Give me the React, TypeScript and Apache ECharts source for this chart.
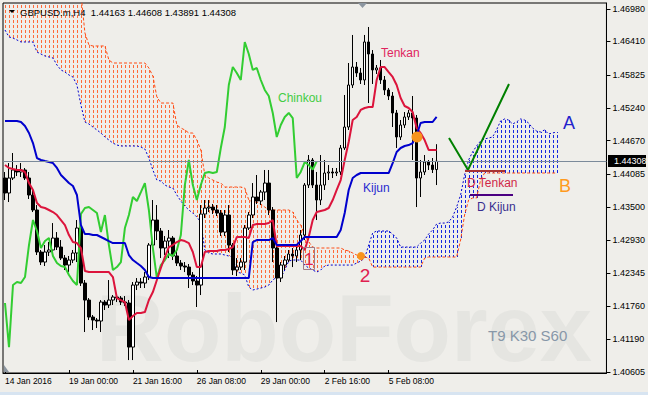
import React, { useEffect, useRef } from "react";
import * as echarts from "echarts";

const FONT = '"Liberation Sans", Arial, sans-serif';
const BG = "#EFEEEA";

const symbolTitle = "GBPUSD.m,H4";
const titleOHLC = [1.44163, 1.44608, 1.43891, 1.44308];
const timeLabels = ["14 Jan 2016", "19 Jan 00:00", "21 Jan 16:00", "26 Jan 08:00", "29 Jan 00:00", "2 Feb 16:00", "5 Feb 08:00"];
const barsPerLabel = 16;
const totalSlots = 151;
const priceTicks = [1.4698, 1.4641, 1.45825, 1.4524, 1.4467, 1.44085, 1.435, 1.4293, 1.42345, 1.4176, 1.4119, 1.40605];
const lastPrice = 1.44308;
const chinkouShift = 30;

const open = [
  1.44014, 1.43751, 1.44014, 1.44155, 1.4412, 1.44155, 1.44014, 1.43716, 1.43453, 1.42716,
  1.4254, 1.42716, 1.42751, 1.42961, 1.42803, 1.4261, 1.42487, 1.42575, 1.42698, 1.43137,
  1.42171, 1.41873, 1.41575, 1.41522, 1.41505, 1.41838, 1.41786, 1.41873, 1.41926, 1.41908,
  1.41838, 1.41821, 1.41048, 1.42136, 1.42189, 1.42171, 1.42277, 1.42838, 1.43277, 1.43084,
  1.42786, 1.42908, 1.42961, 1.42646, 1.42522, 1.4247, 1.42452, 1.42312, 1.42207, 1.42136,
  1.43382, 1.43488, 1.43505, 1.43453, 1.434, 1.43066, 1.43365, 1.42838, 1.424, 1.42452,
  1.4254, 1.43137, 1.43365, 1.43681, 1.43611, 1.43768, 1.43926, 1.43453, 1.42786, 1.42259,
  1.42487, 1.42575, 1.42681, 1.42646, 1.42751, 1.43014, 1.43891, 1.4433, 1.43891, 1.43628,
  1.43891, 1.44102, 1.4412, 1.44102, 1.4412, 1.44541, 1.44909, 1.45646, 1.45962, 1.45857,
  1.45734, 1.46401, 1.4619, 1.4591, 1.45945, 1.45734, 1.45559, 1.45453, 1.45155, 1.44734,
  1.44944, 1.45085, 1.45155, 1.45067, 1.44014, 1.4412, 1.44295, 1.44242, 1.44163,
];
const close = [
  1.43751, 1.44014, 1.44155, 1.4412, 1.44155, 1.44014, 1.43716, 1.43453, 1.42716, 1.4254,
  1.42716, 1.42751, 1.42961, 1.42803, 1.4261, 1.42487, 1.42575, 1.42698, 1.43137, 1.42171,
  1.41873, 1.41575, 1.41522, 1.41505, 1.41838, 1.41786, 1.41873, 1.41926, 1.41908, 1.41838,
  1.41821, 1.41048, 1.42136, 1.42189, 1.42171, 1.42277, 1.42838, 1.43277, 1.43084, 1.42786,
  1.42908, 1.42961, 1.42646, 1.42522, 1.4247, 1.42452, 1.42312, 1.42207, 1.42136, 1.43382,
  1.43488, 1.43505, 1.43453, 1.434, 1.43066, 1.43365, 1.42838, 1.424, 1.42452, 1.4254,
  1.43137, 1.43365, 1.43681, 1.43611, 1.43768, 1.43926, 1.43453, 1.42786, 1.42259, 1.42487,
  1.42575, 1.42681, 1.42646, 1.42751, 1.43014, 1.43891, 1.4433, 1.43891, 1.43628, 1.43891,
  1.44102, 1.4412, 1.44102, 1.4412, 1.44541, 1.44909, 1.45646, 1.45962, 1.45857, 1.45734,
  1.46401, 1.4619, 1.4591, 1.45945, 1.45734, 1.45559, 1.45453, 1.45155, 1.44734, 1.44944,
  1.45085, 1.45155, 1.45067, 1.44014, 1.4412, 1.44295, 1.44242, 1.44163, 1.44308,
];
const high = [
  1.4412, 1.44277, 1.44453, 1.44242, 1.44277, 1.4419, 1.4412, 1.43804, 1.4354, 1.42751,
  1.42838, 1.42891, 1.43224, 1.43066, 1.42926, 1.42663, 1.42646, 1.42751, 1.43277, 1.43277,
  1.42224, 1.41908, 1.4161, 1.41557, 1.41873, 1.41873, 1.42224, 1.41961, 1.41978, 1.41943,
  1.41943, 1.41873, 1.42189, 1.42259, 1.42259, 1.42364, 1.42873, 1.43628, 1.4354, 1.43137,
  1.42996, 1.43102, 1.42996, 1.42751, 1.42575, 1.4254, 1.42505, 1.42364, 1.42294, 1.4354,
  1.43628, 1.43628, 1.43558, 1.4354, 1.43453, 1.43453, 1.4354, 1.42873, 1.4261, 1.4261,
  1.43189, 1.43417, 1.43926, 1.44067, 1.43804, 1.44155, 1.44155, 1.43505, 1.42838, 1.4254,
  1.42646, 1.42751, 1.42786, 1.42838, 1.43102, 1.43926, 1.44418, 1.44365, 1.4412, 1.44418,
  1.4433, 1.44242, 1.4419, 1.4419, 1.44593, 1.45471, 1.46032, 1.46524, 1.4605, 1.45945,
  1.46524, 1.46664, 1.4626, 1.45997, 1.46085, 1.45804, 1.45594, 1.45523, 1.45208, 1.45032,
  1.45172, 1.45208, 1.45453, 1.4512, 1.4433, 1.44418, 1.4433, 1.44365, 1.44608,
];
const low = [
  1.43628, 1.43593, 1.43979, 1.44049, 1.44032, 1.43979, 1.43646, 1.43417, 1.42663, 1.42487,
  1.4247, 1.42646, 1.42663, 1.42751, 1.42575, 1.424, 1.42364, 1.42522, 1.4254, 1.42119,
  1.41312, 1.41522, 1.41347, 1.41382, 1.41312, 1.41698, 1.41733, 1.41786, 1.41838, 1.41786,
  1.41768, 1.4082, 1.4082, 1.42049, 1.42084, 1.42084, 1.42224, 1.42803, 1.42926, 1.4261,
  1.42663, 1.4261, 1.42575, 1.4247, 1.424, 1.42364, 1.42084, 1.42136, 1.41751, 1.41961,
  1.43312, 1.43417, 1.43382, 1.43347, 1.42996, 1.42996, 1.42716, 1.42312, 1.42294, 1.424,
  1.424, 1.43102, 1.43312, 1.43558, 1.4354, 1.43628, 1.43365, 1.4254, 1.41487, 1.42189,
  1.424, 1.4254, 1.42452, 1.4254, 1.42575, 1.42926, 1.43839, 1.43839, 1.43277, 1.4354,
  1.43804, 1.43979, 1.44014, 1.44049, 1.44067, 1.44506, 1.44857, 1.45594, 1.45787, 1.45664,
  1.45646, 1.4533, 1.45664, 1.45839, 1.45664, 1.45471, 1.45383, 1.44909, 1.44541, 1.44681,
  1.44892, 1.45032, 1.4433, 1.43505, 1.43681, 1.44067, 1.44155, 1.44102, 1.43891,
];
const tenkan = [
  1.44242, 1.4419, 1.44172, 1.44155, 1.44155, 1.4412, 1.43926, 1.43804, 1.43575, 1.43505,
  1.43488, 1.43453, 1.43417, 1.43365, 1.43277, 1.43189, 1.43014, 1.42891, 1.42873, 1.42786,
  1.42382, 1.42364, 1.42364, 1.42364, 1.42364, 1.42364, 1.42364, 1.42277, 1.41908, 1.41873,
  1.41838, 1.41522, 1.41592, 1.41645, 1.41645, 1.41662, 1.41873, 1.42013, 1.42224, 1.42435,
  1.42628, 1.42803, 1.42838, 1.42891, 1.42926, 1.42908, 1.42873, 1.42716, 1.42452, 1.42452,
  1.42716, 1.42733, 1.42733, 1.42733, 1.42751, 1.42751, 1.42768, 1.42803, 1.42979, 1.42979,
  1.42979, 1.42961, 1.43189, 1.43207, 1.43207, 1.43207, 1.43224, 1.43277, 1.42821, 1.42821,
  1.42821, 1.42821, 1.42821, 1.42821, 1.42821, 1.42751, 1.42979, 1.43277, 1.43417, 1.43435,
  1.43453, 1.43488, 1.43628, 1.43804, 1.43979, 1.4433, 1.44646, 1.45032, 1.45085, 1.45208,
  1.45243, 1.4526, 1.4526, 1.45734, 1.45962, 1.45962, 1.45874, 1.45787, 1.45646, 1.45418,
  1.45278, 1.45243, 1.45172, 1.44892, 1.44804, 1.44681, 1.44506, 1.44506, 1.44506,
];
const kijun = [
  1.45015, 1.45015, 1.45015, 1.45015, 1.44997, 1.44927, 1.44804, 1.44628, 1.44365, 1.4433,
  1.44312, 1.44295, 1.44277, 1.4419, 1.44067, 1.43997, 1.43926, 1.43874, 1.43716, 1.43189,
  1.43031, 1.43031, 1.43014, 1.43014, 1.42979, 1.42944, 1.42908, 1.42873, 1.42873, 1.42873,
  1.42873, 1.42663, 1.42575, 1.42522, 1.4247, 1.424, 1.42277, 1.42259, 1.42259, 1.42259,
  1.42259, 1.42259, 1.42259, 1.42259, 1.42259, 1.42259, 1.42259, 1.42259, 1.42259, 1.42259,
  1.42259, 1.42259, 1.42259, 1.42259, 1.42259, 1.42259, 1.42259, 1.42259, 1.42259, 1.42259,
  1.42259, 1.42259, 1.42891, 1.42926, 1.42926, 1.42926, 1.42926, 1.42961, 1.42838, 1.42838,
  1.42838, 1.42838, 1.42838, 1.42838, 1.42908, 1.42979, 1.42979, 1.42979, 1.42979, 1.42979,
  1.42979, 1.42979, 1.42979, 1.42979, 1.43102, 1.434, 1.43804, 1.44014, 1.44067, 1.44102,
  1.44102, 1.44102, 1.44102, 1.44102, 1.44102, 1.44102, 1.44102, 1.44277, 1.44471, 1.44541,
  1.44576, 1.44593, 1.44628, 1.44769, 1.4498, 1.44997, 1.44997, 1.44997, 1.45085,
];
const senkouA = [
  1.46611, 1.46489, 1.46471, 1.46436, 1.46401, 1.46401, 1.46401, 1.46401, 1.46225, 1.4619,
  1.46155, 1.46138, 1.4612, 1.45997, 1.4591, 1.45874, 1.45822, 1.45787, 1.45646, 1.45295,
  1.44997, 1.44962, 1.44909, 1.44857, 1.44804, 1.44734, 1.44681, 1.44628, 1.44593, 1.44576,
  1.44576, 1.44576, 1.44576, 1.44576, 1.44558, 1.44523, 1.44365, 1.44155, 1.43979, 1.43961,
  1.43891, 1.43856, 1.43839, 1.43716, 1.43611, 1.43523, 1.43453, 1.434, 1.4333, 1.43242,
  1.42751, 1.42698, 1.42681, 1.42681, 1.42681, 1.42663, 1.42646, 1.42628, 1.42364, 1.42347,
  1.42312, 1.42101, 1.42049, 1.42066, 1.42084, 1.42101, 1.42136, 1.42224, 1.42277, 1.42259,
  1.424, 1.42557, 1.42575, 1.42575, 1.42575, 1.42487, 1.42435, 1.424, 1.42364, 1.424,
  1.4247, 1.42487, 1.42487, 1.42487, 1.42487, 1.42487, 1.42487, 1.42487, 1.42522, 1.42557,
  1.4261, 1.42838, 1.43049, 1.43084, 1.43084, 1.43084, 1.43084, 1.43031, 1.42961, 1.42803,
  1.42803, 1.42803, 1.42803, 1.42803, 1.42873, 1.42926, 1.43031, 1.43102, 1.43207, 1.43224,
  1.43224, 1.43242, 1.4333, 1.43505, 1.43716, 1.44067, 1.4433, 1.44471, 1.44576, 1.44664,
  1.44699, 1.44716, 1.44734, 1.44857, 1.45015, 1.4505, 1.45032, 1.44962, 1.44997, 1.4505,
  1.45032, 1.4498, 1.44892, 1.44839, 1.44822, 1.44857, 1.44787, 1.44804, 1.44822,
];
const senkouB = [
  1.4725, 1.4725, 1.4725, 1.4725, 1.4725, 1.4725, 1.4725, 1.4725, 1.4725, 1.4725,
  1.4725, 1.4725, 1.4725, 1.4725, 1.4725, 1.4725, 1.4725, 1.4725, 1.4725, 1.4725,
  1.46559, 1.46348, 1.46331, 1.46331, 1.46331, 1.46331, 1.46085, 1.46032, 1.46032, 1.46032,
  1.46032, 1.46032, 1.46032, 1.46032, 1.46032, 1.46032, 1.45945, 1.45804, 1.45436, 1.4533,
  1.4533, 1.4533, 1.4533, 1.44944, 1.44892, 1.44857, 1.44804, 1.44804, 1.44681, 1.44506,
  1.44067, 1.44014, 1.43979, 1.43944, 1.43926, 1.43856, 1.43856, 1.43856, 1.43856, 1.43856,
  1.43839, 1.43628, 1.43593, 1.43593, 1.43558, 1.43505, 1.43453, 1.43453, 1.43453, 1.43453,
  1.43453, 1.43453, 1.43417, 1.43277, 1.43189, 1.43014, 1.42891, 1.42803, 1.42786, 1.42786,
  1.42786, 1.42786, 1.42786, 1.42786, 1.42786, 1.42751, 1.42733, 1.42698, 1.42663, 1.42628,
  1.42628, 1.4261, 1.42452, 1.42452, 1.42452, 1.42452, 1.42452, 1.42452, 1.42452, 1.42452,
  1.42452, 1.42452, 1.42452, 1.42452, 1.42452, 1.4261, 1.42628, 1.42628, 1.42628, 1.42628,
  1.42628, 1.42628, 1.42628, 1.42628, 1.42926, 1.43365, 1.43628, 1.43663, 1.43663, 1.43979,
  1.44102, 1.44102, 1.44102, 1.44102, 1.44102, 1.44102, 1.44102, 1.44102, 1.44102, 1.44102,
  1.44102, 1.44102, 1.44102, 1.44102, 1.44102, 1.44102, 1.44102, 1.44102, 1.44102,
];

const COL_TENKAN = "#DC143C";
const COL_KIJUN = "#0000CD";
const COL_CHINKOU = "#32CD32";
const COL_SPAN_A = "#0000CD";
const COL_SPAN_B = "#FF4A12";
const HATCH_A = "#1428E0";
const HATCH_B = "#FF6A38";

export default function App() {
  const ref = useRef<HTMLDivElement>(null);
  useEffect(() => {
    if (!ref.current) return;
    const chart = echarts.init(ref.current, undefined, { renderer: "svg" });
    const categories = Array.from({ length: totalSlots }, (_, i) => String(i));
    const candles = open.map((o, i) => [o, close[i], low[i], high[i]]);
    const chinkou = close.slice(chinkouShift);
    const isLabel = (idx: number) => idx % barsPerLabel === 0 && idx / barsPerLabel < timeLabels.length;
    const txt = (text: string, x: number, y: number, size: number, fill: string, extra: any = {}) => ({
      type: "text",
      x,
      y,
      z: 100,
      silent: true,
      style: { text, fill, fontSize: size, fontFamily: FONT, verticalAlign: "middle", textVerticalAlign: "middle", ...extra },
    });

    chart.setOption({
      animation: false,
      backgroundColor: BG,
      grid: { left: 3, top: 3, width: 604, height: 370, show: true, borderColor: "#000", borderWidth: 1, backgroundColor: BG },
      xAxis: {
        type: "category",
        data: categories,
        boundaryGap: true,
        axisLine: { show: true, lineStyle: { color: "#000", width: 1 } },
        axisTick: { show: true, inside: true, length: 3, alignWithLabel: true, interval: (idx: number) => isLabel(idx), lineStyle: { color: "#000" } },
        axisLabel: {
          interval: (idx: number) => isLabel(idx),
          formatter: (_v: string, idx: number) => timeLabels[idx / barsPerLabel] || "",
          align: "left",
          margin: 3,
          color: "#000",
          fontSize: 8.5,
          fontFamily: FONT,
        },
        splitLine: { show: false },
      },
      yAxis: {
        type: "value",
        position: "right",
        min: 1.40593,
        max: 1.47085,
        splitLine: { show: false },
        axisLine: { show: true, lineStyle: { color: "#000", width: 1 } },
        axisTick: { show: true, length: 4, customValues: priceTicks, lineStyle: { color: "#000" } },
        axisLabel: { customValues: priceTicks, formatter: (v: number) => v.toFixed(5), margin: 6, color: "#000", fontSize: 9, fontFamily: FONT },
      },
      series: [
        {
          type: "line",
          name: "price",
          data: [],
          z: 1,
          silent: true,
          markLine: {
            silent: true,
            precision: 5,
            symbol: ["none", "none"],
            label: { show: false },
            lineStyle: { color: "#7B8A9A", width: 1, type: "solid" },
            data: [{ yAxis: lastPrice }],
          },
        },
        { type: "line", name: "Senkou A", data: senkouA, symbol: "none", z: 2, silent: true, lineStyle: { color: COL_SPAN_A, width: 1, type: [2, 2] } },
        { type: "line", name: "Senkou B", data: senkouB, symbol: "none", z: 2, silent: true, lineStyle: { color: COL_SPAN_B, width: 1, type: [3, 2] } },
        {
          type: "candlestick",
          name: symbolTitle,
          data: candles,
          barWidth: 3,
          z: 3,
          silent: true,
          itemStyle: { color: "#FFFFFF", color0: "#000000", borderColor: "#000000", borderColor0: "#000000", borderWidth: 1 },
        },
        { type: "line", name: "Chinkou", data: chinkou, symbol: "none", z: 4, silent: true, lineStyle: { color: COL_CHINKOU, width: 2 } },
        { type: "line", name: "Tenkan", data: tenkan, symbol: "none", z: 4, silent: true, lineStyle: { color: COL_TENKAN, width: 2 } },
        { type: "line", name: "Kijun", data: kijun, symbol: "none", z: 4, silent: true, lineStyle: { color: COL_KIJUN, width: 2 } },
      ],
    });

    // Kumo hatching: dashed verticals (3px on / 2px off) per bar between Senkou A and B,
    // placed through the chart's own scales via convertToPixel.
    const gridTop = 4;
    const gridBottom = 372;
    const hatch: any[] = [];
    senkouA.forEach((a, i) => {
      const b = senkouB[i];
      const pa = chart.convertToPixel({ xAxisIndex: 0, yAxisIndex: 0 }, [i, a]) as number[];
      const pb = chart.convertToPixel({ xAxisIndex: 0, yAxisIndex: 0 }, [i, b]) as number[];
      const x = Math.round(pa[0]);
      const top = Math.max(gridTop, Math.min(pa[1], pb[1]));
      const bot = Math.min(gridBottom, Math.max(pa[1], pb[1]));
      const fill = b > a ? HATCH_B : HATCH_A;
      for (let k = Math.floor(top / 5) * 5; k < bot; k += 5) {
        const y0 = Math.max(k, Math.round(top));
        const y1 = Math.min(k + 3, Math.round(bot));
        if (y1 - y0 >= 1) {
          hatch.push({ type: "rect", z: 1, silent: true, shape: { x, y: y0, width: 1, height: y1 - y0 }, style: { fill } });
        }
      }
    });

    chart.setOption({
      graphic: [
        {
          type: "text",
          x: 96,
          y: 328,
          z: 1,
          silent: true,
          style: { text: "RoboForex", fill: "#E5E5E1", fontSize: 94, lineHeight: 72, fontWeight: "bold", fontFamily: FONT, verticalAlign: "middle", textVerticalAlign: "middle" },
        },
        ...hatch,
        txt("T9 K30 S60", 488, 335, 15, "#8797A8"),
        { type: "polygon", z: 100, silent: true, shape: { points: [[9, 10], [15, 10], [12, 13]] }, style: { fill: "#000" } },
        txt(symbolTitle + "  " + titleOHLC.map((v) => v.toFixed(5)).join(" "), 20, 12, 9.5, "#000"),
        { type: "polygon", z: 100, silent: true, shape: { points: [[358, 3], [367, 3], [362.5, 8]] }, style: { fill: "#8C96A0" } },
        { type: "polygon", z: 100, silent: true, shape: { points: [[4, 365], [4, 372], [9, 372]] }, style: { fill: "#8C96A0" } },
        txt("Tenkan", 381, 53, 12, "#E0245E"),
        txt("Chinkou", 278, 98, 12, "#44CC44"),
        txt("Kijun", 363, 188, 12, "#2A2AD0"),
        { type: "rect", z: 100, silent: true, shape: { x: 303.5, y: 247.5, width: 11, height: 22 }, style: { fill: "none", stroke: "#A07A86", lineWidth: 1 } },
        txt("1", 309, 259, 17, "#E02050", { align: "center", textAlign: "center" }),
        txt("2", 365, 275, 19, "#E02050", { align: "center", textAlign: "center" }),
        { type: "circle", z: 100, silent: true, shape: { cx: 417, cy: 137, r: 5.5 }, style: { fill: "#F7941D" } },
        { type: "circle", z: 100, silent: true, shape: { cx: 361, cy: 256, r: 4 }, style: { fill: "#F7941D" } },
        { type: "polyline", z: 100, silent: true, shape: { points: [[449, 138], [468, 170], [509, 84]] }, style: { stroke: "#008000", lineWidth: 2, fill: "none" } },
        { type: "line", z: 100, silent: true, shape: { x1: 465, y1: 171, x2: 505, y2: 171 }, style: { stroke: "#A83232", lineWidth: 2 } },
        txt("D Tenkan", 467, 183, 12, "#D02848"),
        { type: "line", z: 100, silent: true, shape: { x1: 470, y1: 195, x2: 513, y2: 195 }, style: { stroke: "#4B0082", lineWidth: 2 } },
        txt("D Kijun", 477, 207, 12, "#3A2E90"),
        txt("A", 563, 123, 18, "#2222CC"),
        txt("B", 559, 186, 18, "#FF9A1E"),
        { type: "rect", z: 100, silent: true, shape: { x: 608, y: 155, width: 38, height: 12 }, style: { fill: "#000" } },
        txt(lastPrice.toFixed(5), 614, 161, 9, "#FFFFFF"),
        { type: "rect", z: 100, silent: true, shape: { x: 0, y: 392, width: 648, height: 3 }, style: { fill: "#D7E4F1" } },
      ],
    });
    return () => chart.dispose();
  }, []);
  return <div ref={ref} style={{ position: "absolute", left: 0, top: 0, width: 648, height: 395 }} />;
}
